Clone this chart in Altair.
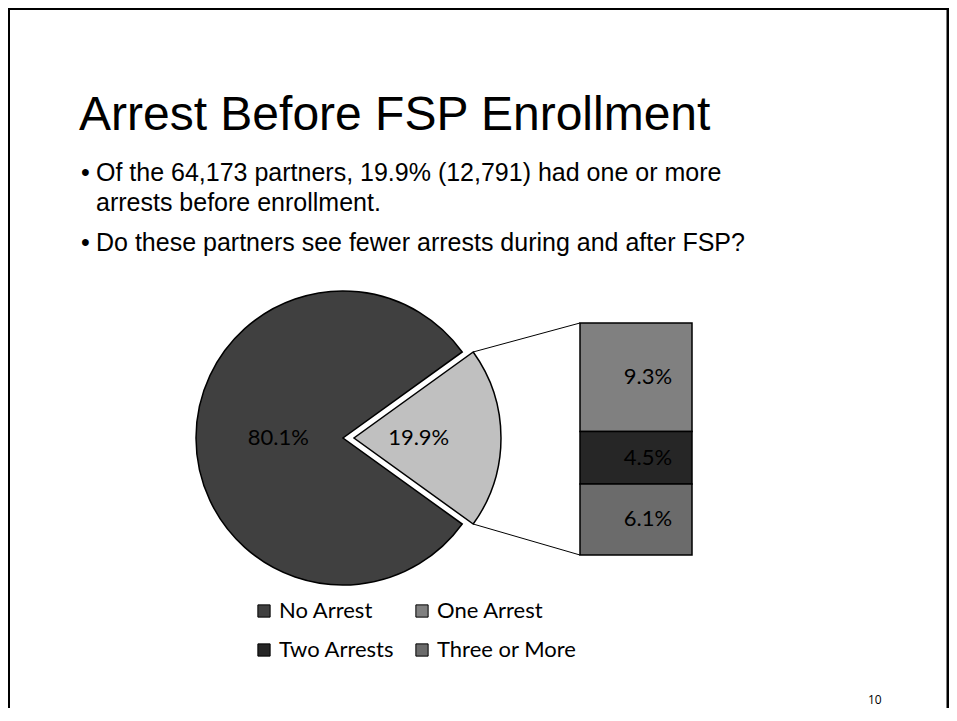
import math
import altair as alt
import pandas as pd

# ---------------- data ----------------
pie_categories = ["Any Arrest", "No Arrest"]
pie_values = [19.9, 80.1]
pie_labels = ["19.9%", "80.1%"]

bar_categories = ["One Arrest", "Two Arrests", "Three or More"]
bar_values = [9.3, 4.5, 6.1]
bar_labels = ["9.3%", "4.5%", "6.1%"]

legend_order = ["No Arrest", "One Arrest", "Two Arrests", "Three or More"]
legend_colors = ["#404040", "#808080", "#262626", "#6b6b6b"]
split_color = "#c0c0c0"

title_text = "Arrest Before FSP Enrollment"
bullet_texts = [
    "Of the 64,173 partners, 19.9% (12,791) had one or more",
    "arrests before enrollment.",
    "Do these partners see fewer arrests during and after FSP?",
]
page_number = "10"

# ---------------- layout (pixels, chart coordinates) ----------------
W, H = 941, 700
CX, CY, R = 335, 430, 147
EXPLODE = 11
BAR_X0, BAR_X1 = 572, 684
BAR_Y0, BAR_Y1 = 315, 547
LABEL_R = 0.44 * R

# ---------------- derived tables ----------------
total = sum(pie_values)
split_share = pie_values[0]
start_angle = math.pi / 2 - (split_share / total) * math.pi  # split slice centred at 3 o'clock
theta_scale = alt.Scale(domain=[0, total], range=[start_angle, start_angle + 2 * math.pi])

t0, acc = [], 0.0
for v in pie_values:
    t0.append(acc)
    acc += v
pie_df = pd.DataFrame({
    "cat": pie_categories,
    "value": pie_values,
    "t0": t0,
    "t1": [a + v for a, v in zip(t0, pie_values)],
    "label": pie_labels,
})
pie_df["mid"] = (pie_df["t0"] + pie_df["t1"]) / 2
pie_df["cx"] = [CX + EXPLODE if c == "Any Arrest" else CX for c in pie_categories]
pie_df["cy"] = CY

y0, acc = [], 0.0
for v in bar_values:
    y0.append(acc)
    acc += v
bar_total = acc
bar_df = pd.DataFrame({
    "cat": bar_categories,
    "value": bar_values,
    "y0": y0,
    "y1": [a + v for a, v in zip(y0, bar_values)],
    "label": bar_labels,
})
bar_df["ymid"] = (bar_df["y0"] + bar_df["y1"]) / 2
bar_scale = alt.Scale(domain=[0, bar_total], range=[BAR_Y0, BAR_Y1], nice=False, zero=False)

# connector lines: from split-slice edges to bar corners
def slice_point(frac_pos):
    ang = start_angle + frac_pos / total * 2 * math.pi
    return CX + EXPLODE + R * math.sin(ang), CY - R * math.cos(ang)

p_top = slice_point(0.0)
p_bot = slice_point(split_share)
conn_df = pd.DataFrame({
    "x": [p_top[0], p_bot[0]],
    "y": [p_top[1], p_bot[1]],
    "x2": [BAR_X0, BAR_X0],
    "y2": [BAR_Y0, BAR_Y1],
})

color_scale = alt.Scale(domain=legend_order, range=legend_colors)

# ---------------- layers ----------------
no_arrest = alt.Chart(pie_df).transform_filter(alt.datum.cat == "No Arrest").mark_arc(
    radius=R, stroke="black", strokeWidth=1.5
).encode(
    x=alt.X("cx:Q", scale=None, axis=None),
    y=alt.Y("cy:Q", scale=None, axis=None),
    theta=alt.Theta("t0:Q", scale=theta_scale, stack=False),
    theta2="t1:Q",
    color=alt.Color("cat:N", scale=color_scale, title=None),
)

split_arc = alt.Chart(pie_df).transform_filter(alt.datum.cat == "Any Arrest").mark_arc(
    radius=R, stroke="black", strokeWidth=1.5, color=split_color
).encode(
    x=alt.X("cx:Q", scale=None, axis=None),
    y=alt.Y("cy:Q", scale=None, axis=None),
    theta=alt.Theta("t0:Q", scale=theta_scale, stack=False),
    theta2="t1:Q",
)

pie_text = alt.Chart(pie_df).mark_text(
    radius=LABEL_R, font="Lato", fontSize=22, color="black", align="center", baseline="middle"
).encode(
    x=alt.X("cx:Q", scale=None, axis=None),
    y=alt.Y("cy:Q", scale=None, axis=None),
    theta=alt.Theta("mid:Q", scale=theta_scale, stack=False),
    text="label:N",
)

bars = alt.Chart(bar_df).mark_bar(stroke="black", strokeWidth=1.5).encode(
    x=alt.value(BAR_X0),
    x2=alt.value(BAR_X1),
    y=alt.Y("y0:Q", scale=bar_scale, axis=None),
    y2="y1:Q",
    color=alt.Color("cat:N", scale=color_scale, title=None),
)

bar_text = alt.Chart(bar_df).mark_text(
    font="Lato", fontSize=22, color="black", align="center", baseline="middle", dx=12
).encode(
    x=alt.value((BAR_X0 + BAR_X1) / 2),
    y=alt.Y("ymid:Q", scale=bar_scale, axis=None),
    text="label:N",
)

connectors = alt.Chart(conn_df).mark_rule(color="black", strokeWidth=1).encode(
    x=alt.X("x:Q", scale=None, axis=None),
    y=alt.Y("y:Q", scale=None, axis=None),
    x2="x2:Q",
    y2="y2:Q",
)

one = pd.DataFrame({"k": [0]})

def text_layer(txt, x, y, size, font, align="left", color="black"):
    return alt.Chart(one).mark_text(
        font=font, fontSize=size, align=align, baseline="alphabetic", color=color
    ).encode(x=alt.value(x), y=alt.value(y), text=alt.value(txt))

title = text_layer(title_text, 71, 122, 48, "Liberation Sans")
b1 = text_layer("\u2022", 73, 173, 25, "Liberation Sans")
l1 = text_layer(bullet_texts[0], 88, 173, 25, "Liberation Sans")
l2 = text_layer(bullet_texts[1], 88, 203, 25, "Liberation Sans")
b2 = text_layer("\u2022", 73, 243, 25, "Liberation Sans")
l3 = text_layer(bullet_texts[2], 88, 243, 25, "Liberation Sans")
pnum = text_layer(page_number, 860, 696, 12, "Open Sans")

border_left = alt.Chart(one).mark_rule(color="black", strokeWidth=3).encode(
    x=alt.value(0.5), y=alt.value(0), y2=alt.value(H))
border_top = alt.Chart(one).mark_rule(color="black", strokeWidth=3).encode(
    y=alt.value(0.5), x=alt.value(0), x2=alt.value(W))
border_right = alt.Chart(one).mark_rule(color="black", strokeWidth=3).encode(
    x=alt.value(W - 1), y=alt.value(0), y2=alt.value(H))

chart = alt.layer(
    border_left, border_top, border_right,
    title, b1, l1, l2, b2, l3, pnum,
    connectors, no_arrest, split_arc, bars, pie_text, bar_text,
).resolve_scale(x="independent", y="independent").properties(
    width=W, height=H, padding=0,
    autosize=alt.AutoSizeParams(type="none"),
).configure_view(strokeWidth=0).configure_legend(
    orient="none", legendX=245, legendY=592, columns=2, direction="horizontal",
    symbolType="square", symbolSize=150, symbolStrokeColor="black", symbolStrokeWidth=1,
    symbolOpacity=1, labelFont="Lato", labelFontSize=22, labelColor="black",
    labelOffset=4, rowPadding=17, columnPadding=16, padding=0, labelLimit=300,
)

chart.save("out.html", embed_options={"renderer": "svg", "actions": False})
